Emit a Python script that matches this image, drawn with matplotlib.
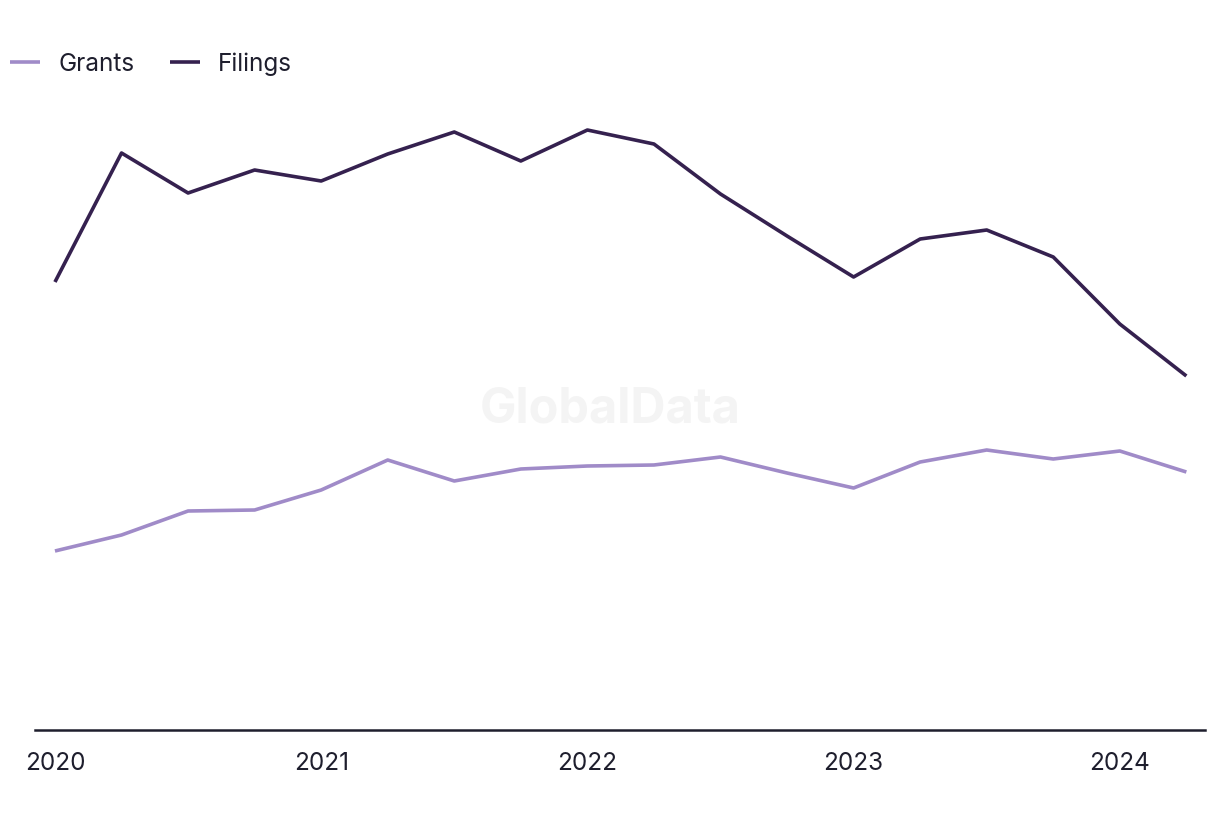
import matplotlib.pyplot as plt
import numpy as np

plt.rcParams['font.family'] = ['Inter', 'DejaVu Sans']

# quarterly, 2020 Q1 .. 2024 Q2
quarters = list(range(18))
filings = [449, 578, 538, 561, 550, 577, 599, 570, 601, 587, 537, 495, 454, 492, 501, 474, 407, 355]
grants = [180, 196, 220, 221, 241, 271, 250, 262, 265, 266, 274, 258, 243, 269, 281, 272, 280, 259]
year_ticks = [0, 4, 8, 12, 16]
year_labels = ['2020', '2021', '2022', '2023', '2024']

text_col = '#1e1e2d'

fig = plt.figure(figsize=(12.2, 8.2), dpi=100)
ax = fig.add_axes([35 / 1220, 89 / 820, 1170 / 1220, 630 / 820])

ax.plot(quarters, grants, color='#a08bc8', lw=2.6, label='Grants', solid_capstyle='butt')
ax.plot(quarters, filings, color='#35214f', lw=2.6, label='Filings', solid_capstyle='butt')

ax.set_xlim(-0.3, 17.28)
ax.set_ylim(1, 631)

for s in ['top', 'right', 'left']:
	ax.spines[s].set_visible(False)
ax.spines['bottom'].set_color(text_col)
ax.spines['bottom'].set_linewidth(1.8)
ax.set_yticks([])
ax.set_xticks(year_ticks)
ax.set_xticklabels(year_labels, fontsize=17.5, color=text_col)
ax.tick_params(axis='x', length=0, pad=15)

# watermark
fig.text(610 / 1220, 1 - 410 / 820, 'GlobalData', fontsize=35, fontweight='bold',
	color='#f4f4f4', ha='center', va='center', zorder=0)

leg = fig.legend(loc='upper left', bbox_to_anchor=(0.0, 1 - 43 / 820), ncol=2, frameon=False,
	fontsize=17.5, handlelength=1.25, handletextpad=0.75, columnspacing=1.45, borderaxespad=0)
for t in leg.get_texts():
	t.set_color(text_col)

fig.savefig('out.png', dpi=100)
